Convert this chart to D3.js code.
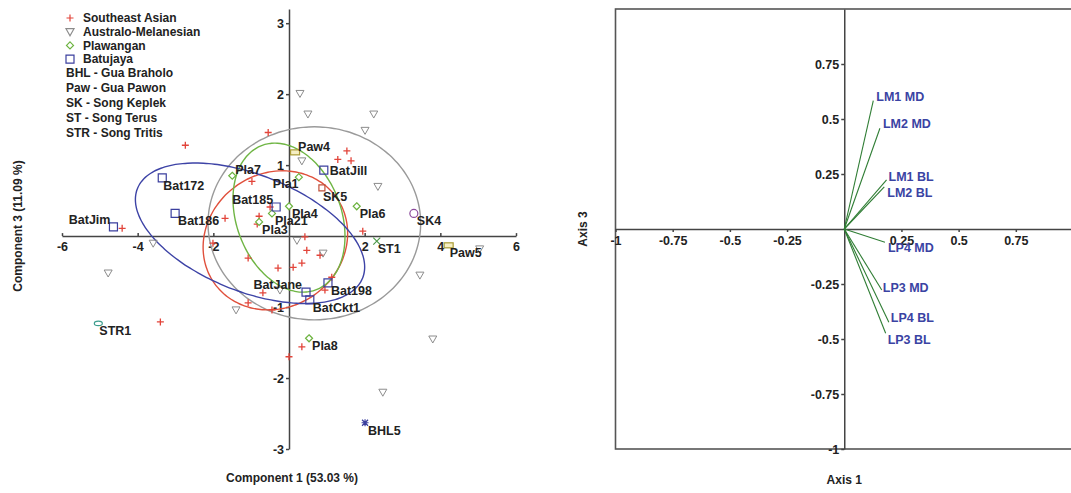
<!DOCTYPE html>
<html>
<head>
<meta charset="utf-8">
<script src="https://cdn.jsdelivr.net/npm/d3@7"></script>
<style>
body { margin: 0; background: #fff; }
svg text { font-family: "Liberation Sans", Arial, sans-serif; font-weight: bold; fill: #222; }
.axis path, .axis line { stroke: #444; stroke-width: 1.5; }
.axis text { font-size: 12.5px; fill: #222; font-family: "Liberation Sans", Arial, sans-serif; font-weight: bold; }
</style>
</head>
<body>
<svg id="chart" width="1071" height="493"></svg>
<script>
// ---- data: PCA scores (component 1, component 3) ----
let southeastAsian = [
    [-2.74, 1.28], [-0.55, 1.46], [-0.98, 0.77], [-0.50, 0.41], [-0.79, 0.28],
    [-0.84, 0.17], [-1.69, 0.25], [-4.41, 0.11], [-2.01, -0.10], [-1.08, -0.31],
    [-0.29, -0.45], [0.11, -0.44], [1.53, 1.20], [1.29, 1.08], [1.64, 1.06],
    [1.95, 0.07], [0.42, -0.01], [0.47, -0.20], [0.82, -0.27], [0.34, -0.38],
    [1.13, -0.58], [-0.69, -0.80], [-1.08, -0.94], [-0.45, -1.04], [-3.40, -1.21],
    [0.0, -1.70], [0.95, -0.76], [0.34, -1.56]
];

let australoMelanesian = [
    [0.29, 2.01], [0.50, 1.72], [2.24, 1.72], [2.01, 1.49], [0.34, 1.06],
    [2.35, 0.70], [0.21, -0.06], [0.90, -0.24], [3.46, -0.55], [5.04, -0.18],
    [-3.59, -0.10], [-4.78, -0.52], [-1.40, -1.04], [3.80, -1.45], [2.48, -2.20],
    [-0.24, -0.76]
];

let plawangan = [
    {name: "Pla7", x: -1.50, y: 0.85},
    {name: "Pla1", x: 0.26, y: 0.83},
    {name: "Pla4", x: 0.0, y: 0.42},
    {name: "Pla21", x: -0.45, y: 0.32},
    {name: "Pla3", x: -0.79, y: 0.20},
    {name: "Pla6", x: 1.79, y: 0.42},
    {name: "Pla8", x: 0.53, y: -1.44}
];

let batujaya = [
    {name: "BatJim", x: -4.64, y: 0.13},
    {name: "Bat172", x: -3.35, y: 0.82},
    {name: "Bat186", x: -3.01, y: 0.32},
    {name: "Bat185", x: -0.34, y: 0.41},
    {name: "BatJill", x: 0.92, y: 0.93},
    {name: "Bat198", x: 1.03, y: -0.66},
    {name: "BatJane", x: 0.45, y: -0.79},
    {name: "BatCkt1", x: 0.55, y: -0.90}
];

let sites = [
    {name: "SK5", site: "SK", x: 0.87, y: 0.68},
    {name: "SK4", site: "SK", x: 3.30, y: 0.32},
    {name: "ST1", site: "ST", x: 2.32, y: -0.07},
    {name: "Paw4", site: "Paw", x: 0.16, y: 1.18},
    {name: "Paw5", site: "Paw", x: 4.22, y: -0.13},
    {name: "STR1", site: "STR", x: -5.04, y: -1.23},
    {name: "BHL5", site: "BHL", x: 2.01, y: -2.63}
];

// 95% ellipses: centre, half extent in x and y, correlation
let ellipses = [
    {group: "Australo-Melanesian", cx: 0.67, cy: 0.18, w: 2.81, h: 1.36, rho: 0.0},
    {group: "Southeast Asian", cx: -0.36, cy: -0.06, w: 1.91, h: 0.98, rho: 0.1},
    {group: "Plawangan", cx: 0.0, cy: 0.26, w: 1.48, h: 1.05, rho: -0.25},
    {group: "Batujaya", cx: -1.03, cy: 0.04, w: 3.03, h: 0.99, rho: -0.48}
];

let groups = ["Southeast Asian", "Australo-Melanesian", "Plawangan", "Batujaya"];
let siteKey = ["BHL - Gua Braholo", "Paw - Gua Pawon", "SK - Song Keplek", "ST - Song Terus", "STR - Song Tritis"];

let xTicksLeft = [-6, -4, -2, 2, 4, 6];
let yTicksLeft = [-3, -2, -1, 1, 2, 3];

// ---- data: loadings (axis 1, axis 3) ----
let loadings = [
    {name: "LM1 MD", x: 0.127, y: 0.583},
    {name: "LM2 MD", x: 0.156, y: 0.458},
    {name: "LM1 BL", x: 0.185, y: 0.223},
    {name: "LM2 BL", x: 0.175, y: 0.192},
    {name: "LP4 MD", x: 0.178, y: -0.060},
    {name: "LP3 MD", x: 0.164, y: -0.277},
    {name: "LP4 BL", x: 0.195, y: -0.424},
    {name: "LP3 BL", x: 0.181, y: -0.474}
];
let xTicksRight = [-1, -0.75, -0.5, -0.25, 0.25, 0.5, 0.75];
let yTicksRight = [-1, -0.75, -0.5, -0.25, 0.25, 0.5, 0.75];

// ---- styles / layout ----
let colors = {
    "Southeast Asian": "#e2443a",
    "Australo-Melanesian": "#8c8c8c",
    "Plawangan": "#6cb33f",
    "Batujaya": "#3b3f9e"
};
let ellipseColors = {
    "Southeast Asian": "#e0503c",
    "Australo-Melanesian": "#9a9a9a",
    "Plawangan": "#6fb544",
    "Batujaya": "#3d43a6"
};
// label offsets in px [dx, dy, anchor]
let labelPos = {
    BatJim: [-3, -3, "end"], Bat185: [-3, -3, "end"], BatJane: [-4, -3, "end"],
    Pla7: [3, -2, "start"], Paw4: [3, -1, "start"], BatJill: [6, 5, "start"],
    Pla1: [-26, 11, "start"], Bat172: [1, 12, "start"], SK5: [1, 13, "start"],
    ST1: [1, 12, "start"], Paw5: [1, 12, "start"], STR1: [1, 12, "start"]
};
let loadLabelPos = {
    "LM1 MD": [3, 0], "LM2 MD": [3, 0], "LM1 BL": [2, 1], "LM2 BL": [3, 10],
    "LP4 MD": [3, 10], "LP3 MD": [1, 2], "LP4 BL": [2, 0], "LP3 BL": [2, 11]
};

let svg = d3.select("#chart");

// ================= left: scores =================
let x = d3.scaleLinear().domain([-6, 6]).range([62, 516]);
let y = d3.scaleLinear().domain([-3, 3.2]).range([449, 9]);

let left = svg.append("g");

left.append("g")
    .attr("class", "axis")
    .attr("transform", "translate(0," + y(0) + ")")
    .call(d3.axisBottom(x).tickValues(xTicksLeft).tickSize(-3).tickSizeOuter(0)
        .tickPadding(6).tickFormat(d => String(d)));

left.append("g")
    .attr("class", "axis")
    .attr("transform", "translate(" + x(0) + ",0)")
    .call(d3.axisLeft(y).tickValues(yTicksLeft).tickSize(3).tickSizeOuter(0)
        .tickPadding(2).tickFormat(d => String(d)));

function ellipsePoints(e) {
    let delta = Math.acos(e.rho);
    return d3.range(0, 361, 3).map(t => {
        let a = t * Math.PI / 180;
        return [e.cx + e.w * Math.cos(a), e.cy + e.h * Math.cos(a - delta)];
    });
}

let ellipseLine = d3.line()
    .x(d => x(d[0]))
    .y(d => y(d[1]))
    .curve(d3.curveCardinalClosed);

left.selectAll(".ellipse")
    .data(ellipses)
    .enter()
    .append("path")
    .attr("class", "ellipse")
    .attr("d", d => ellipseLine(ellipsePoints(d).slice(0, -1)))
    .attr("fill", "none")
    .attr("stroke", d => ellipseColors[d.group])
    .attr("stroke-width", 1.4);

function plusPath(px, py, s) {
    return "M" + (px - s) + "," + py + "H" + (px + s) + "M" + px + "," + (py - s) + "V" + (py + s);
}
function trianglePath(px, py, s) {
    return "M" + (px - s) + "," + (py - s * 0.75) + "L" + (px + s) + "," + (py - s * 0.75) +
        "L" + px + "," + (py + s) + "Z";
}
function diamondPath(px, py, s) {
    return "M" + px + "," + (py - s) + "L" + (px + s) + "," + py + "L" + px + "," + (py + s) +
        "L" + (px - s) + "," + py + "Z";
}
function squarePath(px, py, s) {
    return "M" + (px - s) + "," + (py - s) + "H" + (px + s) + "V" + (py + s) + "H" + (px - s) + "Z";
}
function crossPath(px, py, s) {
    return "M" + (px - s) + "," + (py - s) + "L" + (px + s) + "," + (py + s) +
        "M" + (px + s) + "," + (py - s) + "L" + (px - s) + "," + (py + s);
}

left.selectAll(".sea")
    .data(southeastAsian)
    .enter()
    .append("path")
    .attr("d", d => plusPath(x(d[0]), y(d[1]), 3.5))
    .attr("stroke", colors["Southeast Asian"])
    .attr("stroke-width", 1.3)
    .attr("fill", "none");

left.selectAll(".am")
    .data(australoMelanesian)
    .enter()
    .append("path")
    .attr("d", d => trianglePath(x(d[0]), y(d[1]), 4))
    .attr("stroke", colors["Australo-Melanesian"])
    .attr("stroke-width", 1)
    .attr("fill", "none");

left.selectAll(".pla")
    .data(plawangan)
    .enter()
    .append("path")
    .attr("d", d => diamondPath(x(d.x), y(d.y), 3.5))
    .attr("stroke", colors["Plawangan"])
    .attr("stroke-width", 1.2)
    .attr("fill", "#fff");

left.selectAll(".bat")
    .data(batujaya)
    .enter()
    .append("path")
    .attr("d", d => squarePath(x(d.x), y(d.y), 4))
    .attr("stroke", colors["Batujaya"])
    .attr("stroke-width", 1.2)
    .attr("fill", "none");

// site specimens, each with its own marker
sites.forEach(d => {
    let px = x(d.x), py = y(d.y);
    if (d.site === "SK" && d.name === "SK5") {
        left.append("path").attr("d", squarePath(px, py, 3)).attr("stroke", "#c0503a")
            .attr("stroke-width", 1.2).attr("fill", "none");
    } else if (d.site === "SK") {
        left.append("circle").attr("cx", px).attr("cy", py).attr("r", 4)
            .attr("stroke", "#8c4b9c").attr("stroke-width", 1.2).attr("fill", "none");
    } else if (d.site === "ST") {
        left.append("path").attr("d", crossPath(px, py, 3.5)).attr("stroke", "#4f9a4a")
            .attr("stroke-width", 1.2).attr("fill", "none");
    } else if (d.site === "Paw") {
        left.append("rect").attr("x", px - 4.5).attr("y", py - 2.5).attr("width", 9).attr("height", 5)
            .attr("stroke", "#a99b35").attr("stroke-width", 1.2).attr("fill", "#f6efc4");
    } else if (d.site === "STR") {
        left.append("ellipse").attr("cx", px).attr("cy", py).attr("rx", 4).attr("ry", 2.2)
            .attr("stroke", "#3f9e8e").attr("stroke-width", 1.2).attr("fill", "none");
    } else if (d.site === "BHL") {
        left.append("path").attr("d", crossPath(px, py, 3) + plusPath(px, py, 3.5))
            .attr("stroke", "#3b3f9e").attr("stroke-width", 1.2).attr("fill", "none");
    }
});

let labelled = plawangan.concat(batujaya).concat(sites);
left.selectAll(".lbl")
    .data(labelled)
    .enter()
    .append("text")
    .attr("x", d => x(d.x) + (labelPos[d.name] ? labelPos[d.name][0] : 3))
    .attr("y", d => y(d.y) + (labelPos[d.name] ? labelPos[d.name][1] : 12))
    .attr("text-anchor", d => labelPos[d.name] ? labelPos[d.name][2] : "start")
    .style("font-size", "12.5px")
    .text(d => d.name);

// legend
let legend = left.append("g");
let legendMarks = [
    (px, py) => plusPath(px, py, 3.5),
    (px, py) => trianglePath(px, py, 4),
    (px, py) => diamondPath(px, py, 3.5),
    (px, py) => squarePath(px, py, 4)
];
groups.forEach((g, i) => {
    let ly = 18 + i * 13.7;
    legend.append("path")
        .attr("d", legendMarks[i](70, ly))
        .attr("stroke", colors[g])
        .attr("stroke-width", 1.2)
        .attr("fill", "none");
    legend.append("text")
        .attr("x", 83)
        .attr("y", ly + 4.3)
        .style("font-size", "12px")
        .text(g);
});
siteKey.forEach((s, i) => {
    legend.append("text")
        .attr("x", 66)
        .attr("y", 73 + i * 15 + 4.3)
        .style("font-size", "12px")
        .text(s);
});

left.append("text")
    .attr("x", x(0) + 3)
    .attr("y", 482)
    .attr("text-anchor", "middle")
    .style("font-size", "12px")
    .text("Component 1 (53.03 %)");

left.append("text")
    .attr("transform", "translate(22,226) rotate(-90)")
    .attr("text-anchor", "middle")
    .style("font-size", "12px")
    .text("Component 3 (11.09 %)");

// ================= right: loadings =================
let x2 = d3.scaleLinear().domain([-1, 1]).range([615.5, 1073]);
let y2 = d3.scaleLinear().domain([-1, 1]).range([449, 9]);

let right = svg.append("g");

right.append("rect")
    .attr("x", x2(-1))
    .attr("y", y2(1))
    .attr("width", x2(1) - x2(-1))
    .attr("height", y2(-1) - y2(1))
    .attr("fill", "none")
    .attr("stroke", "#555")
    .attr("stroke-width", 1.6);

right.append("g")
    .attr("class", "axis")
    .attr("transform", "translate(0," + y2(0) + ")")
    .call(d3.axisBottom(x2).tickValues(xTicksRight).tickSize(3).tickSizeOuter(0)
        .tickPadding(4).tickFormat(d => String(d)));

right.append("g")
    .attr("class", "axis")
    .attr("transform", "translate(" + x2(0) + ",0)")
    .call(d3.axisLeft(y2).tickValues(yTicksRight).tickSize(3).tickSizeOuter(0)
        .tickPadding(2).tickFormat(d => String(d)));

right.selectAll(".vec")
    .data(loadings)
    .enter()
    .append("line")
    .attr("x1", x2(0))
    .attr("y1", y2(0))
    .attr("x2", d => x2(d.x))
    .attr("y2", d => y2(d.y))
    .attr("stroke", "#2f7d34")
    .attr("stroke-width", 1.1);

right.selectAll(".vlbl")
    .data(loadings)
    .enter()
    .append("text")
    .attr("x", d => x2(d.x) + loadLabelPos[d.name][0])
    .attr("y", d => y2(d.y) + loadLabelPos[d.name][1])
    .style("font-size", "12.5px")
    .style("fill", "#3a43a3")
    .text(d => d.name);

right.append("text")
    .attr("x", x2(0))
    .attr("y", 484)
    .attr("text-anchor", "middle")
    .style("font-size", "12px")
    .text("Axis 1");

right.append("text")
    .attr("transform", "translate(587," + y2(0) + ") rotate(-90)")
    .attr("text-anchor", "middle")
    .style("font-size", "12px")
    .text("Axis 3");
</script>
</body>
</html>
